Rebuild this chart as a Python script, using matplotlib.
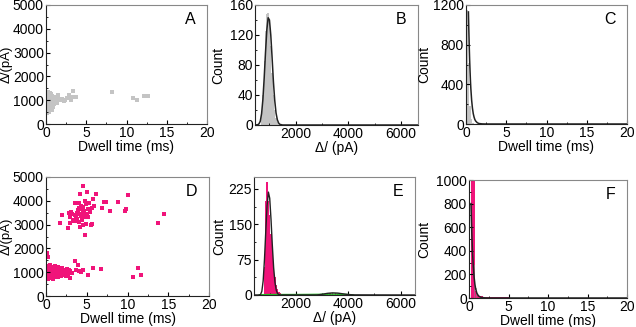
import matplotlib
matplotlib.use('agg')
import matplotlib.pyplot as plt
from matplotlib.ticker import MultipleLocator
import numpy as np

plt.rcParams['font.family'] = ['Liberation Sans', 'DejaVu Sans']
plt.rcParams['font.size'] = 10

GRAY = '#c4c4c4'
PINK = '#f0147a'

# ---- panel A: scatter, dwell time (ms) vs amplitude (pA)
a_dwell = [0.05, 0.08, 0.1, 0.1, 0.12, 0.15, 0.15, 0.18, 0.2, 0.2,
           0.22, 0.25, 0.25, 0.28, 0.3, 0.3, 0.32, 0.35, 0.38, 0.4,
           0.4, 0.42, 0.45, 0.48, 0.5, 0.5, 0.55, 0.55, 0.6, 0.6,
           0.65, 0.7, 0.7, 0.75, 0.8, 0.85, 0.9, 0.95, 1.0, 1.05,
           1.1, 1.2, 1.3, 1.4, 0.12, 0.35, 1.6, 1.9, 2.2, 2.4,
           2.6, 2.8, 3.0, 3.1, 3.3, 3.5, 3.7, 8.2, 10.8, 11.3,
           12.2, 12.5, 12.7, 0.25, 0.45, 0.7, 1.5, 2.0, 2.9, 0.9]
a_amp = [1250, 950, 700, 1100, 850, 600, 1000, 1200, 780, 920,
         1050, 650, 1150, 880, 980, 1300, 720, 1080, 830, 950,
         1220, 560, 1020, 760, 900, 1140, 680, 1000, 860, 1250,
         1060, 790, 940, 1180, 1000, 870, 1100, 960, 1050, 820,
         1150, 980, 1060, 900, 480, 520, 1030, 1000, 950, 1020,
         1100, 1080, 1150, 1000, 1380, 1150, 1120, 1350, 1100, 1020,
         1160, 1180, 1170, 1350, 1300, 600, 1200, 1060, 1200, 700]

# ---- panel B: amplitude histogram + gaussian fit
b_bins = [700, 750, 800, 850, 900, 950, 1000, 1050, 1100, 1150, 1200, 1250, 1300, 1350, 1400]
b_counts = [15, 40, 85, 125, 148, 150, 135, 105, 70, 40, 20, 9, 4, 2, 1]
b_fit_x = [450, 550, 600, 650, 700, 750, 800, 850, 900, 950, 1000, 1050, 1100,
           1150, 1200, 1250, 1300, 1350, 1400, 1500, 6700]
b_fit_y = [0, 0.3, 1.5, 5, 15, 34, 63, 97, 127, 143, 140, 120, 90,
           58, 33, 16, 7, 2.5, 0.8, 0, 0]

# ---- panel C: dwell time histogram + exponential fit
c_bins = [0.1, 0.3, 0.5, 0.7, 0.9]
c_counts = [1150, 620, 180, 50, 12]
c_fit_x = [0.3, 0.35, 0.4, 0.45, 0.5, 0.55, 0.6, 0.7, 0.8, 0.9, 1.0, 1.1, 1.2,
           1.4, 1.6, 2.0, 2.5, 20]
c_fit_y = [1130, 950, 790, 650, 540, 440, 360, 240, 160, 105, 70, 45, 30,
           13, 5, 1, 0, 0]

# ---- panel D: scatter
d_dwell = [0.05, 0.05, 0.05, 0.05, 0.1, 0.1, 0.1, 0.1, 0.15, 0.15,
           0.15, 0.15, 0.2, 0.2, 0.2, 0.2, 0.25, 0.25, 0.25, 0.3,
           0.3, 0.3, 0.3, 0.35, 0.35, 0.35, 0.4, 0.4, 0.4, 0.45,
           0.45, 0.5, 0.5, 0.5, 0.5, 0.55, 0.55, 0.6, 0.6, 0.65,
           0.65, 0.7, 0.7, 0.75, 0.75, 0.8, 0.8, 0.85, 0.85, 0.9,
           0.9, 0.95, 1.0, 1.0, 1.05, 1.1, 1.1, 1.15, 1.2, 1.25,
           1.3, 1.35, 1.4, 1.45, 1.5, 1.5, 1.6, 1.65, 1.7, 1.8,
           1.85, 1.9, 2.0, 2.05, 2.1, 2.2, 2.3, 2.4, 2.5, 2.55,
           2.6, 2.7, 2.8, 2.9, 3.0, 3.2, 3.5, 3.7, 4.0, 4.3,
           4.6, 5.2, 5.8, 6.8, 10.7, 11.3, 11.7, 0.15, 0.3, 3.9,
           1.7, 2.0, 2.7, 2.8, 2.9, 3.1, 3.3, 3.4, 3.5, 3.6,
           3.7, 3.8, 3.9, 4.0, 4.0, 4.1, 4.2, 4.2, 4.3, 4.3,
           4.4, 4.5, 4.5, 4.6, 4.6, 4.7, 4.8, 4.8, 4.9, 4.9,
           5.0, 5.0, 5.1, 5.2, 5.3, 5.5, 5.6, 5.7, 5.8, 6.1,
           6.9, 7.1, 7.4, 7.9, 8.8, 9.7, 9.8, 10.0, 13.7, 14.5,
           3.2, 3.6, 4.1, 4.4, 3.0, 5.4, 4.7, 3.8, 4.5, 5.9]
d_amp = [750, 900, 1050, 1200, 800, 980, 1120, 1280, 700, 870,
         1000, 1180, 760, 930, 1080, 1250, 820, 990, 1150, 720,
         900, 1040, 1220, 850, 960, 1100, 780, 1010, 1180, 880,
         1060, 740, 950, 1130, 1290, 830, 1020, 900, 1170, 760,
         1070, 980, 1230, 850, 1110, 720, 1000, 930, 1200, 810,
         1080, 960, 870, 1140, 1010, 780, 1250, 940, 1060, 850,
         1160, 990, 900, 1090, 800, 1220, 1000, 880, 1130, 950,
         1050, 820, 1180, 990, 900, 1080, 960, 1030, 860, 1150,
         1000, 920, 1100, 740, 1050, 980, 1450, 1100, 1050, 1000,
         1080, 900, 1180, 1140, 800, 1170, 880, 1800, 1620, 1300,
         3050, 3420, 2850, 3500, 3300, 3550, 3200, 3150, 3400, 3900,
         3300, 3250, 3600, 3700, 3100, 3450, 4300, 2880, 3800, 3350,
         3650, 4620, 3550, 3000, 3750, 3300, 4000, 2550, 3850, 3020,
         4360, 3450, 3650, 3300, 3900, 3000, 3700, 3020, 4080, 4290,
         3680, 3940, 3940, 3580, 3940, 3580, 3650, 4250, 3050, 3440,
         3450, 3150, 3900, 3200, 3050, 3550, 3580, 3480, 3350, 3800]

# ---- panel E: amplitude histogram, two populations
e_bins = [800, 850, 900, 950, 1000, 1050, 1100, 1150, 1200, 1250, 1300, 1350, 1400, 1450,
          2900, 3000, 3100, 3200, 3300, 3400, 3500, 3600, 3700, 3800, 3900, 4000]
e_counts = [60, 200, 240, 200, 170, 130, 95, 60, 38, 22, 13, 7, 4, 2,
            1, 2, 2, 3, 5, 4, 4, 3, 3, 2, 2, 1]
e_fit_x = [450, 600, 650, 700, 750, 800, 850, 900, 950, 1000, 1050, 1100, 1150,
           1200, 1250, 1300, 1350, 1400, 2800, 3000, 3200, 3400, 3600, 3800,
           4000, 4200, 6600]
e_fit_y = [0, 0, 1, 8, 30, 75, 135, 190, 218, 205, 160, 105, 58,
           27, 10, 3, 1, 0, 0, 1.5, 3.5, 4.5, 4, 2.5,
           1, 0.3, 0]
e_fit2_x = [600, 1000, 1500, 2000, 2500, 3000, 3500, 4000, 4200]
e_fit2_y = [0.5, 1, 1, 1, 1.2, 1.5, 1.8, 1, 0]

# ---- panel F: dwell time histogram
f_bins = [0.525, 0.925, 1.175, 1.425, 1.675, 1.925, 2.175, 2.425, 2.675, 2.925,
          3.175, 3.425, 3.675, 3.925, 4.175, 4.425, 4.675, 4.925]
f_widths = [0.55, 0.25, 0.25, 0.25, 0.25, 0.25, 0.25, 0.25, 0.25, 0.25,
            0.25, 0.25, 0.25, 0.25, 0.25, 0.25, 0.25, 0.25]
f_counts = [1150, 60, 25, 15, 14, 12, 12, 10, 12, 10,
            10, 9, 10, 8, 10, 8, 9, 10]
f_gray_bins = [0.7, 0.95, 5.5]
f_gray_widths = [0.2, 0.25, 1.0]
f_gray_counts = [280, 85, 4]
f_fit_x = [0.25, 0.35, 0.45, 0.55, 0.65, 0.75, 0.85, 1.0, 1.2, 1.5, 2.0, 2.5, 20]
f_fit_y = [800, 560, 380, 260, 175, 115, 75, 40, 18, 6, 1, 0, 0]


W, H = 636., 327.
def box(l, r, t, b):
    return [l / W, (H - b) / H, (r - l) / W, (b - t) / H]

fig = plt.figure(figsize=(6.36, 3.27), dpi=100)
fig.patch.set_facecolor('white')

def style(ax, letter, ylab_px):
    for s in ['left', 'bottom']:
        ax.spines[s].set_color('#222222')
    for s in ['top', 'right']:
        ax.spines[s].set_color('#888888')
    for s in ax.spines.values():
        s.set_linewidth(0.8)
    ax.tick_params(which='both', direction='in', pad=1.5, labelsize=10)
    ax.tick_params(which='major', length=3)
    ax.tick_params(which='minor', length=1.5)
    ax.text(0.93, 0.88, letter, transform=ax.transAxes, ha='right', va='center', fontsize=11.5)
    # y label placed so many pixels left of the left spine
    w = ax.get_position().width * W
    ax.yaxis.set_label_coords(-ylab_px / w, 0.5)

# A
ax = fig.add_axes(box(46, 207, 5, 124))
ax.scatter(a_dwell, a_amp, s=5, marker='s', color=GRAY, linewidths=0)
ax.set_xlim(0, 20)
ax.set_ylim(0, 5000)
ax.xaxis.set_major_locator(MultipleLocator(5))
ax.xaxis.set_minor_locator(MultipleLocator(2.5))
ax.yaxis.set_major_locator(MultipleLocator(1000))
ax.yaxis.set_minor_locator(MultipleLocator(500))
ax.set_xlabel('Dwell time (ms)', labelpad=0)
ax.set_ylabel('Δ/(pA)', fontsize=9.5)
style(ax, 'A', 33)

# B
ax = fig.add_axes(box(255, 418, 5, 125))
ax.bar(b_bins, b_counts, width=50, color=GRAY, linewidth=0)
ax.plot(b_fit_x, b_fit_y, color='#222222', lw=1.1)
ax.set_xlim(450, 6650)
ax.set_ylim(0, 160)
ax.xaxis.set_major_locator(MultipleLocator(2000))
ax.xaxis.set_minor_locator(MultipleLocator(1000))
ax.yaxis.set_major_locator(MultipleLocator(40))
ax.yaxis.set_minor_locator(MultipleLocator(20))
ax.set_xlabel('Δ/ (pA)', labelpad=0)
ax.set_ylabel('Count')
style(ax, 'B', 30)

# C
ax = fig.add_axes(box(466, 627, 5, 124))
ax.bar(c_bins, c_counts, width=0.2, color=GRAY, linewidth=0)
ax.plot(c_fit_x, c_fit_y, color='#222222', lw=1.1)
ax.set_xlim(0, 20)
ax.set_ylim(0, 1200)
ax.xaxis.set_major_locator(MultipleLocator(5))
ax.xaxis.set_minor_locator(MultipleLocator(2.5))
ax.yaxis.set_major_locator(MultipleLocator(400))
ax.yaxis.set_minor_locator(MultipleLocator(200))
ax.set_xlabel('Dwell time (ms)', labelpad=0)
ax.set_ylabel('Count')
style(ax, 'C', 35)

# D
ax = fig.add_axes(box(46, 209, 177, 296))
ax.scatter(d_dwell, d_amp, s=7, marker='s', color=PINK, linewidths=0)
ax.set_xlim(0, 20)
ax.set_ylim(0, 5000)
ax.xaxis.set_major_locator(MultipleLocator(5))
ax.xaxis.set_minor_locator(MultipleLocator(2.5))
ax.yaxis.set_major_locator(MultipleLocator(1000))
ax.yaxis.set_minor_locator(MultipleLocator(500))
ax.set_xlabel('Dwell time (ms)', labelpad=0)
ax.set_ylabel('Δ/(pA)', fontsize=9.5)
style(ax, 'D', 33)

# E
ax = fig.add_axes(box(254, 415, 177, 295))
ax.bar(e_bins, e_counts, width=50, color=PINK, linewidth=0)
ax.plot(e_fit2_x, e_fit2_y, color='#22bb22', lw=1.0)
ax.plot(e_fit_x, e_fit_y, color='#222222', lw=1.0)
ax.set_xlim(400, 6550)
ax.set_ylim(0, 250)
ax.xaxis.set_major_locator(MultipleLocator(2000))
ax.xaxis.set_minor_locator(MultipleLocator(1000))
ax.yaxis.set_major_locator(MultipleLocator(75))
ax.yaxis.set_minor_locator(MultipleLocator(37.5))
ax.set_xlabel('Δ/ (pA)', labelpad=0)
ax.set_ylabel('Count')
style(ax, 'E', 28)

# F
ax = fig.add_axes(box(469, 627, 180, 298))
ax.bar(f_bins, f_counts, width=f_widths, color=PINK, linewidth=0)
ax.bar(f_gray_bins, f_gray_counts, width=f_gray_widths, color='#8a8a8a', alpha=0.6, linewidth=0)
ax.plot(f_fit_x, f_fit_y, color='#222222', lw=1.1)
ax.set_xlim(0, 20)
ax.set_ylim(0, 1000)
ax.xaxis.set_major_locator(MultipleLocator(5))
ax.xaxis.set_minor_locator(MultipleLocator(2.5))
ax.yaxis.set_major_locator(MultipleLocator(200))
ax.yaxis.set_minor_locator(MultipleLocator(100))
ax.set_xlabel('Dwell time (ms)', labelpad=0)
ax.set_ylabel('Count')
style(ax, 'F', 38)

fig.savefig('out.png', dpi=100)
